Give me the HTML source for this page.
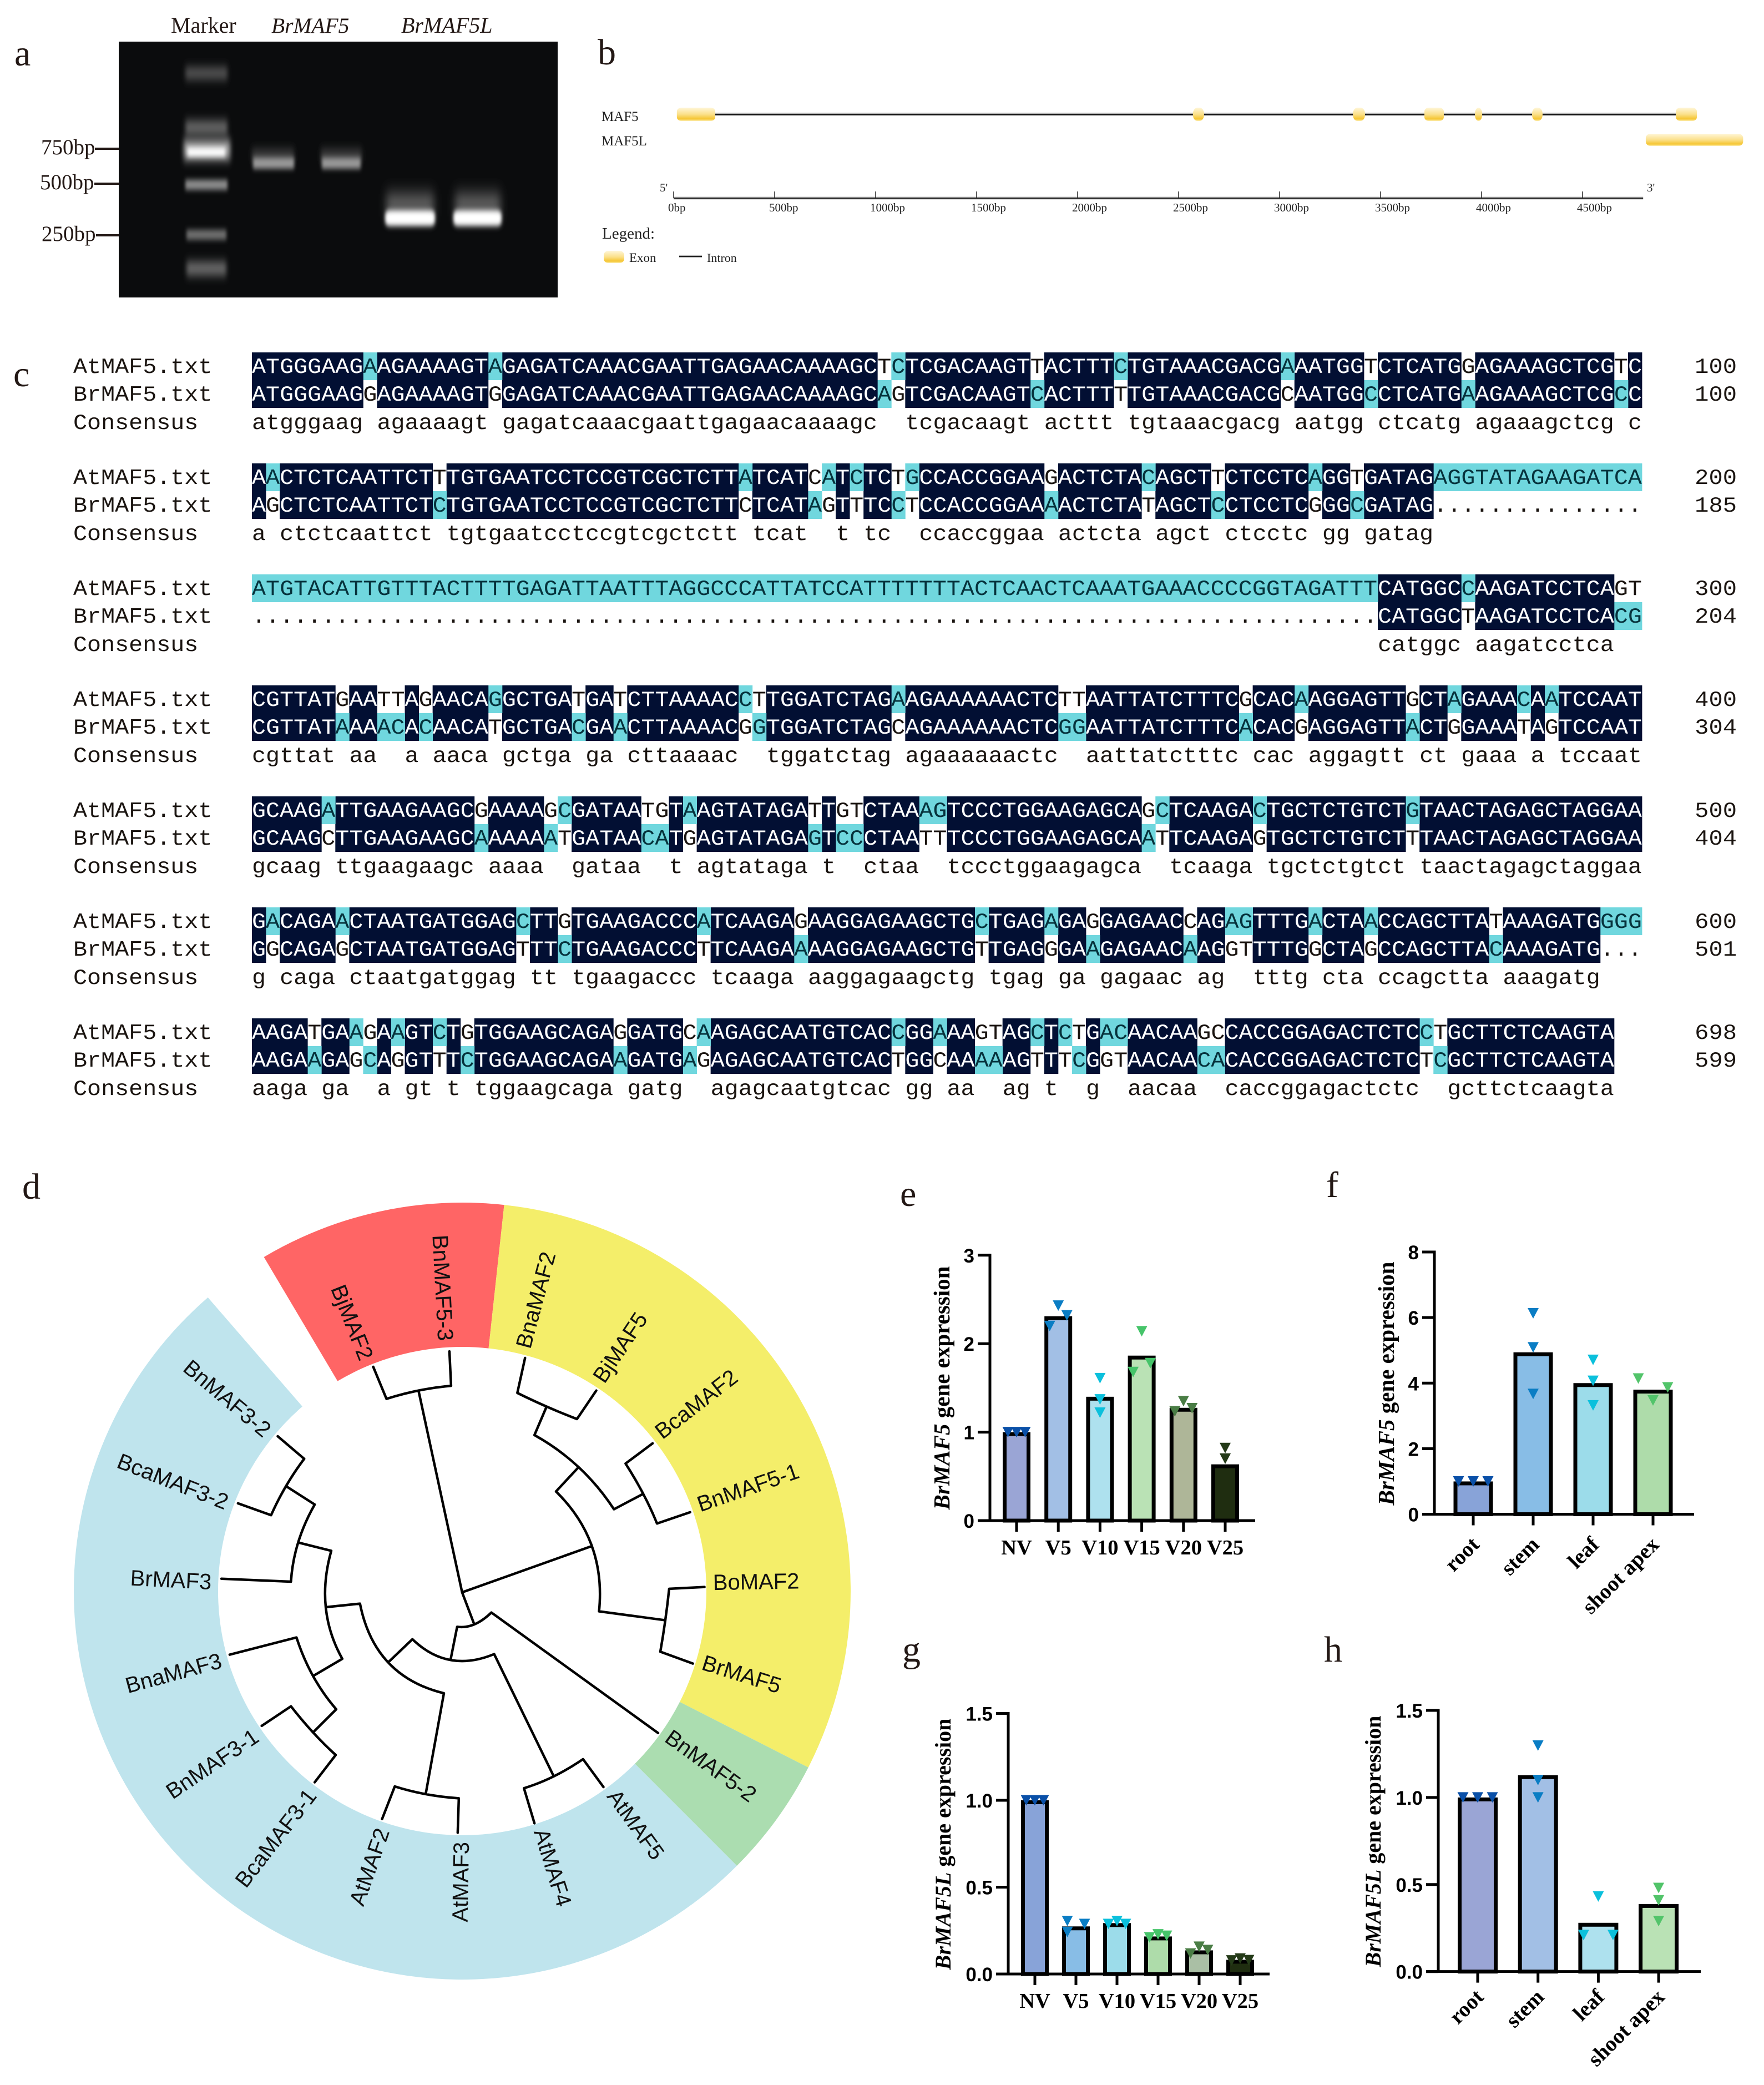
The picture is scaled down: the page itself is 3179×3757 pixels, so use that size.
<!DOCTYPE html>
<html lang="en">
<head>
<meta charset="utf-8">
<title>BrMAF5 multi-panel figure</title>
<style>
html,body{margin:0;padding:0;background:#fff}
svg{display:block}
.serif{font-family:"Liberation Serif",serif}
.sans{font-family:"Liberation Sans",sans-serif}
.mono{font-family:"Liberation Mono",monospace}
.plabel{font-family:"Liberation Serif",serif;font-size:66px;fill:#231815}
</style>
</head>
<body>
<svg id="fig" xmlns="http://www.w3.org/2000/svg" width="3179" height="3757" viewBox="0 0 3179 3757">
<defs>
<filter id="b4" x="-40%" y="-100%" width="180%" height="300%"><feGaussianBlur stdDeviation="3 5"/></filter>
<filter id="b9" x="-40%" y="-120%" width="180%" height="340%"><feGaussianBlur stdDeviation="4 9"/></filter>
<filter id="b14" x="-50%" y="-150%" width="200%" height="400%"><feGaussianBlur stdDeviation="7 15"/></filter>
<linearGradient id="exon" x1="0" y1="0" x2="0" y2="1">
<stop offset="0" stop-color="#fff6d8"/><stop offset=".5" stop-color="#fbe08a"/><stop offset=".85" stop-color="#f5c531"/><stop offset="1" stop-color="#fdeeb0"/>
</linearGradient>
<clipPath id="gelclip"><rect x="214" y="75" width="791" height="461"/></clipPath>
</defs>
<rect width="3179" height="3757" fill="#ffffff"/>

<!-- panel letters -->
<text class="plabel" x="26" y="118">a</text>
<text class="plabel" x="1077" y="116">b</text>
<text class="plabel" x="24" y="696">c</text>
<text class="plabel" x="40" y="2160">d</text>
<text class="plabel" x="1622" y="2173">e</text>
<text class="plabel" x="2390" y="2157">f</text>
<text class="plabel" x="1626" y="2994">g</text>
<text class="plabel" x="2386" y="2994">h</text>

<!-- panel a : gel -->
<g>
<text class="serif" x="308" y="59" font-size="40" fill="#231815">Marker</text>
<text class="serif" x="489" y="59" font-size="39.5" font-style="italic" fill="#231815">BrMAF5</text>
<text class="serif" x="723" y="59" font-size="40" font-style="italic" fill="#231815">BrMAF5L</text>
<rect x="214" y="75" width="791" height="461" fill="#0b0c0d"/>
<g clip-path="url(#gelclip)">
<rect x="334" y="122" width="76" height="20" fill="#5c5c5c" filter="url(#b9)"/>
<rect x="334" y="218" width="76" height="24" fill="#6c6c6c" filter="url(#b9)"/>
<rect x="331" y="252" width="84" height="36" fill="#a8a8a8" filter="url(#b9)"/>
<rect x="338" y="266" width="68" height="16" fill="#fff" filter="url(#b4)"/>
<rect x="334" y="324" width="76" height="18" fill="#8c8c8c" filter="url(#b4)"/>
<rect x="336" y="414" width="72" height="18" fill="#6e6e6e" filter="url(#b4)"/>
<rect x="336" y="472" width="72" height="24" fill="#6e6e6e" filter="url(#b9)"/>
<rect x="454" y="270" width="76" height="20" fill="#444" filter="url(#b9)"/>
<rect x="578" y="270" width="74" height="20" fill="#444" filter="url(#b9)"/>
<rect x="456" y="284" width="74" height="20" fill="#999" filter="url(#b4)"/>
<rect x="580" y="284" width="70" height="20" fill="#999" filter="url(#b4)"/>
<rect x="696" y="350" width="86" height="40" fill="#666" filter="url(#b14)"/>
<rect x="820" y="350" width="82" height="40" fill="#666" filter="url(#b14)"/>
<rect x="694" y="379" width="90" height="28" rx="8" fill="#fff" filter="url(#b4)"/>
<rect x="817" y="379" width="87" height="28" rx="8" fill="#fff" filter="url(#b4)"/>
</g>
<text class="serif" x="74" y="278" font-size="39" fill="#231815">750bp</text>
<text class="serif" x="72" y="341" font-size="39" fill="#231815">500bp</text>
<text class="serif" x="75" y="434" font-size="39" fill="#231815">250bp</text>
<rect x="171" y="266" width="44" height="4" fill="#231815"/>
<rect x="170" y="329" width="45" height="4" fill="#231815"/>
<rect x="173" y="422" width="42" height="4" fill="#231815"/>
</g>

<!-- panel b : gene structure -->
<g id="geneStructure" class="serif" fill="#222">
<text x="1084" y="218" font-size="25">MAF5</text>
<text x="1084" y="262" font-size="25">MAF5L</text>
<text x="1189" y="345" font-size="21">5'</text>
<text x="2968" y="345" font-size="21">3'</text>
<text x="1085" y="430" font-size="29">Legend:</text>
<rect x="1088" y="452" width="37" height="22" rx="8" fill="url(#exon)"/>
<text x="1134" y="472" font-size="23">Exon</text>
<rect x="1224" y="459.5" width="41" height="5" fill="#bbb"/>
<rect x="1224" y="461" width="41" height="2" fill="#222"/>
<text x="1274" y="472" font-size="22">Intron</text>
</g>

<!-- panel c : alignment -->
<g id="alignment"></g>

<!-- panel d : tree -->
<g id="tree"></g>

<!-- panels e-h : bar charts -->
<g id="charts"></g>
</svg>

<script>
// ---------- gene structure data (bp) ----------
const maf5ExonStart = [16, 2571, 3363, 3717, 3967, 4250, 4962];
const maf5ExonEnd = [206, 2626, 3423, 3813, 4003, 4302, 5066];
const maf5lExonStart = [4813];
const maf5lExonEnd = [5295];
const bpTicks = [0, 500, 1000, 1500, 2000, 2500, 3000, 3500, 4000, 4500];
const bpAxisMax = 4800;

// ---------- alignment data ----------
const atSeq = [
"ATGGGAAGAAGAAAAGTAGAGATCAAACGAATTGAGAACAAAAGCTCTCGACAAGTTACTTTCTGTAAACGACGAAATGGTCTCATGGAGAAAGCTCGTC",
"AACTCTCAATTCTTTGTGAATCCTCCGTCGCTCTTATCATCATCTCTGCCACCGGAAGACTCTACAGCTTCTCCTCAGGTGATAGAGGTATAGAAGATCA",
"ATGTACATTGTTTACTTTTGAGATTAATTTAGGCCCATTATCCATTTTTTTACTCAACTCAAATGAAACCCCGGTAGATTTCATGGCCAAGATCCTCAGT",
"CGTTATGAATTAGAACAGGCTGATGATCTTAAAACCTTGGATCTAGAAGAAAAAACTCTTAATTATCTTTCGCACAAGGAGTTGCTAGAAACAATCCAAT",
"GCAAGATTGAAGAAGCGAAAAGCGATAATGTAAGTATAGATTGTCTAAAGTCCCTGGAAGAGCAGCTCAAGACTGCTCTGTCTGTAACTAGAGCTAGGAA",
"GACAGAACTAATGATGGAGCTTGTGAAGACCCATCAAGAGAAGGAGAAGCTGCTGAGAGAGGAGAACCAGAGTTTGACTAACCAGCTTATAAAGATGGGG",
"AAGATGAAGAAGTCTGTGGAAGCAGAGGATGCAAGAGCAATGTCACCGGAAAGTAGCTCTGACAACAAGCCACCGGAGACTCTCCTGCTTCTCAAGTA"
];
const brSeq = [
"ATGGGAAGGAGAAAAGTGGAGATCAAACGAATTGAGAACAAAAGCAGTCGACAAGTCACTTTTTGTAAACGACGCAATGGCCTCATGAAGAAAGCTCGCC",
"AGCTCTCAATTCTCTGTGAATCCTCCGTCGCTCTTCTCATAGTTTCCTCCACCGGAAAACTCTATAGCTCCTCCTCGGGCGATAG...............",
".................................................................................CATGGCTAAGATCCTCACG",
"CGTTATAAAACACAACATGCTGACGAACTTAAAACGGTGGATCTAGCAGAAAAAACTCGGAATTATCTTTCACACGAGGAGTTACTGGAAATAGTCCAAT",
"GCAAGCTTGAAGAAGCAAAAAATGATAACATGAGTATAGAGTCCCTAATTTCCCTGGAAGAGCAATTCAAGAGTGCTCTGTCTTTAACTAGAGCTAGGAA",
"GGCAGAGCTAATGATGGAGTTTCTGAAGACCCTTCAAGAAAAGGAGAAGCTGTTGAGGGAAGAGAACAAGGTTTTGGCTAGCCAGCTTACAAAGATG...",
"AAGAAGAGCAGGTTTCTGGAAGCAGAAGATGAGAGAGCAATGTCACTGGCAAAAAGTTTCGGTAACAACACACCGGAGACTCTCTCGCTTCTCAAGTA"
];
const atEnd = [100, 200, 300, 400, 500, 600, 698];
const brEnd = [100, 185, 204, 304, 404, 501, 599];

// ---------- tree data ----------
const leafNames = ["BjMAF2","BnMAF5-3","BnaMAF2","BjMAF5","BcaMAF2","BnMAF5-1","BoMAF2","BrMAF5","BnMAF5-2","AtMAF5","AtMAF4","AtMAF3","AtMAF2","BcaMAF3-1","BnMAF3-1","BnaMAF3","BrMAF3","BcaMAF3-2","BnMAF3-2"];
const leafAngles = [338.4,357,15,33.8,52.2,70.9,89,107.4,125.9,144.2,162.7,181,199.3,217.7,236,254.8,272.9,291.4,310];
const cladeStart = [-30.7, 6.2, 117, 135];
const cladeEnd = [6.2, 117, 135, 319.1];
const cladeNames = ["clade-red","clade-yellow","clade-green","clade-blue"];
const cladeColors = ["#ff6565","#f4ee6a","#abddb0","#bfe4ed"];
const branchLines = [
[[837,738],[758,398]],[[676,358],[700,412]],[[817,390],[814,332]],
[[837,738],[1072,660]],[[1007,568],[1048,527]],[[1085,770],[1205,785]],
[[1212,732],[1276,729]],[[1196,838],[1255,858]],[[1112,598],[1165,572]],
[[968,473],[990,425]],[[937,402],[951,343]],[[1045,446],[1080,398]],
[[1133,521],[1182,487]],[[1190,622],[1250,603]],
[[837,738],[859,792]],[[890,772],[1192,975]],[[828,796],[816,852]],
[[895,842],[1003,1048]],[[949,1068],[968,1127]],[[1056,1019],[1093,1066]],
[[747,817],[703,856]],[[804,908],[771,1078]],[[715,1065],[692,1120]],[[831,1085],[829,1143]],
[[652,757],[590,763]],[[600,668],[540,654]],[[527,720],[401,715]],[[570,590],[518,559]],
[[551,513],[503,475]],[[491,608],[431,588]],[[620,850],[567,879]],[[537,814],[416,843]],
[[609,935],[567,974]],[[527,930],[474,963]],[[608,1012],[570,1058]]
];
const branchArcs = [
[[700,412],[758,398],[817,390]],[[1007,568],[1072,660],[1085,770]],[[1212,732],[1205,785],[1196,838]],
[[968,473],[1048,527],[1112,598]],[[937,402],[990,425],[1045,446]],[[1133,521],[1165,572],[1190,622]],
[[828,796],[859,792],[890,772]],[[747,817],[816,852],[895,842]],[[949,1068],[1003,1048],[1056,1019]],
[[652,757],[703,856],[804,908]],[[715,1065],[771,1078],[831,1085]],[[600,668],[590,763],[620,850]],
[[570,590],[540,654],[527,720]],[[551,513],[518,559],[491,608]],[[537,814],[567,879],[609,935]],
[[527,930],[567,974],[608,1012]]
];

// ---------- chart e ----------
const eCategories = ["NV","V5","V10","V15","V20","V25"];
const eValues = [1.0,2.31,1.40,1.865,1.275,0.636];
const eRep1 = [1.0,2.2,1.61,1.68,1.235,0.70];
const eRep2 = [1.0,2.43,1.37,2.14,1.35,0.82];
const eRep3 = [1.0,2.32,1.22,1.78,1.27,0.70];
const eSides = [[-1,0,1],[-1,0,1],[0,0,0],[-1,0,1],[-1,0,1],[0,0,0]];
const eTicks = [0,1,2,3];
const eTickLabels = ["0","1","2","3"];
// ---------- chart f ----------
const fCategories = ["root","stem","leaf","shoot apex"];
const fValues = [1.0,4.94,4.0,3.8];
const fRep1 = [1.0,3.67,3.32,4.14];
const fRep2 = [1.0,5.09,4.07,3.47];
const fRep3 = [1.0,6.13,4.71,3.87];
const fSides = [[-1,0,1],[0,0,0],[0,0,0],[-1,0,1]];
const fTicks = [0,2,4,6,8];
const fTickLabels = ["0","2","4","6","8"];
// ---------- chart g ----------
const gCategories = ["NV","V5","V10","V15","V20","V25"];
const gValues = [1.0,0.274,0.293,0.216,0.136,0.082];
const gRep1 = [1.0,0.242,0.288,0.211,0.118,0.078];
const gRep2 = [1.0,0.305,0.305,0.228,0.157,0.089];
const gRep3 = [1.0,0.288,0.288,0.22,0.138,0.08];
const gSides = [[-1,0,1],[-1,-1,1],[-1,0,1],[-1,0,1],[-1,0,1],[-1,0,1]];
const gTicks = [0,0.5,1,1.5];
const gTickLabels = ["0.0","0.5","1.0","1.5"];
// ---------- chart h ----------
const hCategories = ["root","stem","leaf","shoot apex"];
const hValues = [1.0,1.128,0.28,0.388];
const hRep1 = [1.0,1.0,0.21,0.29];
const hRep2 = [1.0,1.10,0.431,0.409];
const hRep3 = [1.0,1.298,0.21,0.48];
const hSides = [[-1,0,1],[0,0,0],[-1,0,1],[0,0,0]];
const hTicks = [0,0.5,1,1.5];
const hTickLabels = ["0.0","0.5","1.0","1.5"];

const NS = "http://www.w3.org/2000/svg";
function make(tag, attrs, parent){
  const el = document.createElementNS(NS, tag);
  for (const k in attrs) el.setAttribute(k, attrs[k]);
  parent.appendChild(el);
  return el;
}

// ========== gene structure ==========
(function(){
  const root = document.getElementById("geneStructure");
  const x0 = 1214, pxPerBp = 0.364;
  const bx = v => x0 + v * pxPerBp;
  const halo = make("rect",{x:bx(206),y:203,width:bx(4962)-bx(206),height:6,fill:"#bdbdbd"},root);
  
  
  const line = make("rect",{x:bx(206),y:205,width:bx(4962)-bx(206),height:2.2,fill:"#1c1c1c"},root);
  
  
  maf5ExonStart.forEach((s,i)=>{
    const w = bx(maf5ExonEnd[i])-bx(s);
    const e = make("rect",{x:bx(s),y:194,width:w,height:24,rx:Math.min(w/2,8),ry:w<30?11:7,fill:"url(#exon)"},root);
    
    
  });
  maf5lExonStart.forEach((s,i)=>{
    const e = make("rect",{x:bx(s),y:241,width:bx(maf5lExonEnd[i])-bx(s),height:22,rx:8,fill:"url(#exon)"},root);
    
    
  });
  const axisHalo = make("rect",{x:bx(0),y:354.5,width:bx(bpAxisMax)-bx(0),height:5,fill:"#c8c8c8"},root);
  
  
  const axis = make("rect",{x:bx(0),y:356,width:bx(bpAxisMax)-bx(0),height:2.2,fill:"#1c1c1c"},root);
  
  
  bpTicks.forEach(t=>{
    const k = make("rect",{x:bx(t)-.7,y:345,width:1.5,height:12,fill:"#222"},root);
    
    
    const l = make("text",{x:bx(t)-10,y:381,"font-size":21},root);
    l.textContent = t+"bp";
    
    
  });
})();

// ========== alignment ==========
(function(){
  const root = document.getElementById("alignment");
  const X0 = 454, COL = 25.05, FS = 39, ADV = FS*0.6001, SX = COL/ADV;
  const GAP = 200, TOP0 = 635, RH = 50;

  function classify(a,b,i){
    const c = a[i], o = b[i];
    if (c === undefined) return "none";
    if (c === ".") return "dot";
    if (c === o) return "same";
    if (o === "." || o === undefined) return "cyan";
    return c < o ? "cyan" : "white";
  }
  const FILL = {same:"#020f33",cyan:"#70d7de"};
  const INK = {same:"#ffffff",cyan:"#06323c",white:"#1a1410",dot:"#1a1410"};

  function label(txt,y,name){
    const g = make("g",{transform:`translate(132,${y}) scale(${SX},1)`,class:"mono","font-size":FS,fill:"#1a1410"},root);
    const t = make("text",{x:0,y:0},g);
    t.textContent = txt;
    
    
  }
  function endNum(v,y,name){
    const g = make("g",{transform:`translate(3130,${y}) scale(1.08,1)`,class:"mono","font-size":FS,fill:"#1a1410"},root);
    const t = make("text",{x:0,y:0,"text-anchor":"end"},g);
    t.textContent = String(v);
    
    
  }
  function seqRow(a,b,top,name){
    const base = top+37;
    const g = make("g",{transform:`translate(${X0},${base}) scale(${SX},1)`,class:"mono","font-size":FS},root);
    const t = make("text",{x:0,y:0},g);
    
    
    let i=0;
    while(i<a.length){
      const c = classify(a,b,i);
      let j=i+1;
      while(j<a.length && classify(a,b,j)===c) j++;
      if (FILL[c]){
        const r = make("rect",{x:X0+i*COL,y:top,width:(j-i)*COL+.4,height:RH,fill:FILL[c]},root);
        root.insertBefore(r, root.firstChild);
        
        
      }
      const s = make("tspan",{x:i*ADV,fill:INK[c]},t);
      s.textContent = a.slice(i,j);
      i=j;
    }
  }
  function consensus(a,b,top){
    const base = top+138;
    const g = make("g",{transform:`translate(${X0},${base}) scale(${SX},1)`,class:"mono","font-size":FS,fill:"#1a1410"},root);
    const t = make("text",{x:0,y:0},g);
    
    
    let i=0;
    const same = k => a[k]!==undefined && a[k]===b[k] && a[k]!==".";
    while(i<a.length){
      if(!same(i)){i++;continue;}
      let j=i+1;
      while(j<a.length && same(j)) j++;
      const s = make("tspan",{x:i*ADV},t);
      s.textContent = a.slice(i,j).toLowerCase();
      i=j;
    }
  }
  atSeq.forEach((at,k)=>{
    const br = brSeq[k], top = TOP0+k*GAP;
    label("AtMAF5.txt",top+37,'at-row-label');
    label("BrMAF5.txt",top+87,'br-row-label');
    label("Consensus",top+138,'consensus-row-label');
    seqRow(at,br,top,'atmaf5-sequence');
    seqRow(br,at,top+RH,'brmaf5-sequence');
    consensus(at,br,top);
    endNum(atEnd[k],top+37,'atmaf5-end-position');
    endNum(brEnd[k],top+87,'brmaf5-end-position');
  });
})();

// ========== tree ==========
(function(){
  const root = document.getElementById("tree");
  const CX=833, CY=2867, RO=700, RI=440, RT=452, LIFT=7;
  const pol=(a,r)=>{const t=a*Math.PI/180;return [CX+r*Math.sin(t),CY-r*Math.cos(t)];};
  cladeStart.forEach((s,i)=>{
    const e=cladeEnd[i], large=(e-s)>180?1:0;
    const p1=pol(s,RO),p2=pol(e,RO),p3=pol(e,RI),p4=pol(s,RI);
    const d=`M${p1[0]},${p1[1]}A${RO},${RO} 0 ${large} 1 ${p2[0]},${p2[1]}L${p3[0]},${p3[1]}A${RI},${RI} 0 ${large} 0 ${p4[0]},${p4[1]}Z`;
    const sec=make("path",{d:d,fill:cladeColors[i]},root);
    
    
  });
  const fx=x=>x*0.995, fy=y=>2080+y*1.0695;
  let d="";
  branchLines.forEach(l=>{d+=`M${fx(l[0][0])},${fy(l[0][1])}L${fx(l[1][0])},${fy(l[1][1])}`;});
  branchArcs.forEach(a=>{
    const cx=2*a[1][0]-(a[0][0]+a[2][0])/2, cy=2*a[1][1]-(a[0][1]+a[2][1])/2;
    d+=`M${fx(a[0][0])},${fy(a[0][1])}Q${fx(cx)},${fy(cy)} ${fx(a[2][0])},${fy(a[2][1])}`;
  });
  const br=make("path",{d:d,fill:"none",stroke:"#000","stroke-width":4.5,"stroke-linecap":"round","stroke-linejoin":"round"},root);
  
  
  leafNames.forEach((n,i)=>{
    const a=leafAngles[i], p=pol(a,RT);
    const right=a<180;
    const rot=right?a-90:a-270;
    const t=make("text",{x:p[0],y:p[1]+(right?-LIFT:LIFT),"text-anchor":right?"start":"end","dominant-baseline":"central",
      transform:`rotate(${rot} ${p[0]} ${p[1]})`,class:"sans","font-size":40,fill:"#111"},root);
    t.textContent=n;
    
    
  });
})();

// ========== bar charts ==========
function drawBarChart(c){
  const root=make("g",{},document.getElementById("charts"));
  
  
  const y=v=>c.y0-v*c.unit;
  const x=i=>c.x0+i*c.step;
  const SW=7;
  c.categories.forEach((cat,i)=>{
    const top=y(c.values[i]);
    const b=make("rect",{x:x(i)-c.bw/2+SW/2,y:top+SW/2,width:c.bw-SW,height:Math.max(0,c.y0-top-SW/2),fill:c.fills[i],stroke:"#000","stroke-width":SW},root);
    
    
  });
  const axY=make("line",{x1:c.ax,x2:c.ax,y1:y(c.ticks[c.ticks.length-1])-2.5,y2:c.y0,stroke:"#000","stroke-width":5},root);
  
  
  const axX=make("line",{x1:c.ax-22,x2:c.axEnd,y1:c.y0,y2:c.y0,stroke:"#000","stroke-width":5},root);
  
  
  c.ticks.forEach((t,i)=>{
    const k=make("line",{x1:c.ax-22,x2:c.ax,y1:y(t),y2:y(t),stroke:"#000","stroke-width":5},root);
    
    
    const l=make("text",{x:c.ax-28,y:y(t)+13,"text-anchor":"end",class:"sans","font-size":35,"font-weight":"bold",fill:"#000"},root);
    l.textContent=c.tickLabels[i];
    
    
  });
  c.categories.forEach((cat,i)=>{
    const k=make("line",{x1:x(i),x2:x(i),y1:c.y0,y2:c.y0+20,stroke:"#000","stroke-width":5},root);
    
    
    let l;
    if(c.rotated){
      const lx=x(i)+13, ly=c.y0+41+c.labelDrop;
      l=make("text",{x:lx,y:ly,"text-anchor":"end",transform:`rotate(-45 ${lx} ${ly})`,class:"serif","font-size":39,"font-weight":"bold",fill:"#000"},root);
    }else{
      l=make("text",{x:x(i),y:c.y0+61,"text-anchor":"middle",class:"serif","font-size":38.5,"font-weight":"bold",fill:"#000"},root);
    }
    l.textContent=cat;
    
    
  });
  c.categories.forEach((cat,i)=>{
    c.reps.forEach((rep,r)=>{
      const mx=x(i)+c.sides[i][r]*c.off, my=y(rep[i]);
      const m=make("polygon",{points:`${mx-10},${my-9.5} ${mx+10},${my-9.5} ${mx},${my+9.5}`,fill:c.markers[i]},root);
      
      
    });
  });
  const ty=make("text",{x:c.titleX,y:c.titleY,"text-anchor":"middle",transform:`rotate(-90 ${c.titleX} ${c.titleY})`,class:"serif","font-size":c.titleSize,"font-weight":"bold",fill:"#000"},root);
  
  
  const it=make("tspan",{"font-style":"italic"},ty);
  it.textContent=c.gene;
  const rest=make("tspan",{},ty);
  rest.textContent=" gene expression";
}
const barFillsA=["#9aa5d5","#a2bfe5","#aee1ee","#bae2b5","#aeb698","#1f2d10"];
const barFillsB=["#88a3d8","#88bde6","#9cdcea","#aedcaa","#aabfa5","#1f2d10"];
const markA=["#0a50a8","#0a7dc4","#0bc0dc","#46c46a","#4a7d45","#243a18"];
drawBarChart({name:"chart-e",categories:eCategories,values:eValues,reps:[eRep1,eRep2,eRep3],sides:eSides,ticks:eTicks,tickLabels:eTickLabels,
  y0:2740,unit:159.4,x0:1832,step:75.2,bw:50,ax:1784,axEnd:2262,off:15.5,fills:barFillsA,markers:markA,gene:"BrMAF5",titleX:1711,titleY:2501,titleSize:41,rotated:false,labelDrop:0});
drawBarChart({name:"chart-f",categories:fCategories,values:fValues,reps:[fRep1,fRep2,fRep3],sides:fSides,ticks:fTicks,tickLabels:fTickLabels,
  y0:2728.5,unit:59.06,x0:2655,step:108,bw:71,ax:2585,axEnd:3053,off:26.5,fills:barFillsB,markers:["#0a50a8","#0a7dc4","#0bc0dc","#52c46a"],gene:"BrMAF5",titleX:2512,titleY:2493,titleSize:41,rotated:true,labelDrop:16});
drawBarChart({name:"chart-g",categories:gCategories,values:gValues,reps:[gRep1,gRep2,gRep3],sides:gSides,ticks:gTicks,tickLabels:gTickLabels,
  y0:3557,unit:313,x0:1865,step:74,bw:50,ax:1817,axEnd:2288,off:15.5,fills:barFillsB,markers:markA,gene:"BrMAF5L",titleX:1713,titleY:3323,titleSize:40,rotated:false,labelDrop:0});
drawBarChart({name:"chart-h",categories:hCategories,values:hValues,reps:[hRep1,hRep2,hRep3],sides:hSides,ticks:hTicks,tickLabels:hTickLabels,
  y0:3552.6,unit:313.7,x0:2663,step:108.7,bw:72,ax:2592,axEnd:3065,off:26.5,fills:barFillsA,markers:["#0a50a8","#0a7dc4","#0bc0dc","#52c46a"],gene:"BrMAF5L",titleX:2488,titleY:3318,titleSize:40,rotated:true,labelDrop:7});
</script>
</body>
</html>
